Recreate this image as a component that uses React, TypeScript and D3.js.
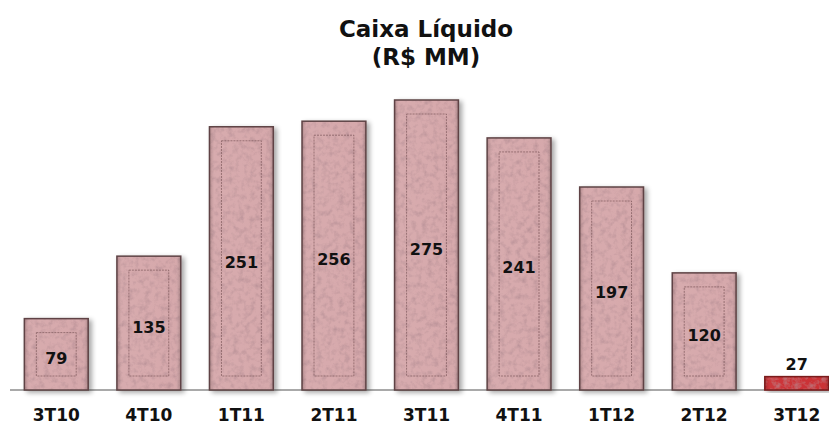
import React, { useEffect, useRef } from "react";
import * as d3 from "d3";

const categories = ["3T10", "4T10", "1T11", "2T11", "3T11", "4T11", "1T12", "2T12", "3T12"];
const values = [79, 135, 251, 256, 275, 241, 197, 120, 27];
const title = ["Caixa Líquido", "(R$ MM)"];

const App = () => {
    const svgRef = useRef<SVGSVGElement>(null);

    useEffect(() => {
        const width = 829, height = 425;
        const baseline = 390;
        const font = "'DejaVu Sans', Verdana, sans-serif";

        const svg = d3.select(svgRef.current)
            .attr("width", width)
            .attr("height", height);
        svg.selectAll("*").remove();

        const defs = svg.append("defs");

        // mottled stone texture
        const tex = defs.append("filter").attr("id", "stone")
            .attr("x", "0").attr("y", "0").attr("width", "1").attr("height", "1");
        tex.append("feTurbulence").attr("type", "fractalNoise")
            .attr("baseFrequency", "0.18").attr("numOctaves", 3).attr("seed", 4).attr("result", "noise");
        tex.append("feColorMatrix").attr("in", "noise").attr("type", "matrix")
            .attr("values", "0 0 0 0 0.4  0 0 0 0 0.22  0 0 0 0 0.25  0 0 0 -1.4 0.8")
            .attr("result", "spots");
        tex.append("feComposite").attr("in", "spots").attr("in2", "SourceGraphic").attr("operator", "atop");

        const shadow = defs.append("filter").attr("id", "shadow")
            .attr("x", "-20%").attr("y", "-10%").attr("width", "150%").attr("height", "130%");
        shadow.append("feGaussianBlur").attr("in", "SourceAlpha").attr("stdDeviation", 2.5);
        shadow.append("feOffset").attr("dx", 3).attr("dy", 2).attr("result", "b");
        shadow.append("feComponentTransfer").append("feFuncA").attr("type", "linear").attr("slope", 0.35);
        const merge = shadow.append("feMerge");
        merge.append("feMergeNode");
        merge.append("feMergeNode").attr("in", "SourceGraphic");

        const bevel = defs.append("linearGradient").attr("id", "bevelH");
        bevel.append("stop").attr("offset", "0%").attr("stop-color", "#000").attr("stop-opacity", 0.18);
        bevel.append("stop").attr("offset", "8%").attr("stop-color", "#fff").attr("stop-opacity", 0.08);
        bevel.append("stop").attr("offset", "92%").attr("stop-color", "#fff").attr("stop-opacity", 0.05);
        bevel.append("stop").attr("offset", "100%").attr("stop-color", "#000").attr("stop-opacity", 0.22);

        const x = d3.scaleBand()
            .domain(categories)
            .range([10, 843])
            .paddingInner(0.31)
            .paddingOuter(0.155);

        const y = d3.scaleLinear()
            .domain([15, 275])
            .range([baseline, 100]);

        const data = categories.map((c, i) => ({ cat: c, value: values[i], last: i === categories.length - 1 }));

        svg.append("line")
            .attr("x1", 10).attr("x2", width)
            .attr("y1", baseline).attr("y2", baseline)
            .attr("stroke", "#8c8c8c").attr("stroke-width", 1.5);

        const bars = svg.selectAll(".bar")
            .data(data)
            .enter()
            .append("g")
            .attr("class", "bar")
            .attr("filter", "url(#shadow)");

        bars.append("rect")
            .attr("x", d => x(d.cat)!)
            .attr("y", d => y(d.value))
            .attr("width", x.bandwidth())
            .attr("height", d => baseline - y(d.value))
            .attr("fill", d => d.last ? "#c8262a" : "#d4a4a7")
            .attr("filter", "url(#stone)");

        bars.append("rect")
            .attr("x", d => x(d.cat)!)
            .attr("y", d => y(d.value))
            .attr("width", x.bandwidth())
            .attr("height", d => baseline - y(d.value))
            .attr("fill", "url(#bevelH)")
            .attr("stroke", d => d.last ? "#7a1a1a" : "#5e4345")
            .attr("stroke-width", 1.5);

        bars.filter(d => !d.last).append("rect")
            .attr("x", d => x(d.cat)! + 12)
            .attr("y", d => y(d.value) + 14)
            .attr("width", x.bandwidth() - 24)
            .attr("height", d => baseline - y(d.value) - 28)
            .attr("fill", "none")
            .attr("stroke", "#6e4a4d")
            .attr("stroke-opacity", 0.6)
            .attr("stroke-dasharray", "2,1")
            .attr("stroke-width", 1);

        svg.selectAll(".value")
            .data(data)
            .enter()
            .append("text")
            .attr("class", "value")
            .attr("x", d => x(d.cat)! + x.bandwidth() / 2)
            .attr("y", d => d.last ? y(d.value) - 7 : (y(d.value) + baseline) / 2 + 9.5)
            .attr("text-anchor", "middle")
            .attr("font-family", font)
            .attr("font-weight", "bold")
            .attr("font-size", 16)
            .attr("fill", "#111")
            .text(d => d.value);

        svg.selectAll(".cat")
            .data(data)
            .enter()
            .append("text")
            .attr("class", "cat")
            .attr("x", d => x(d.cat)! + x.bandwidth() / 2)
            .attr("y", 421)
            .attr("text-anchor", "middle")
            .attr("font-family", font)
            .attr("font-weight", "bold")
            .attr("font-size", 17)
            .attr("fill", "#111")
            .text(d => d.cat);

        svg.selectAll(".title")
            .data(title)
            .enter()
            .append("text")
            .attr("class", "title")
            .attr("x", 426)
            .attr("y", (d, i) => 37 + i * 28)
            .attr("text-anchor", "middle")
            .attr("font-family", font)
            .attr("font-weight", "bold")
            .attr("font-size", 23)
            .attr("fill", "#111")
            .text(d => d);
    }, []);

    return <svg ref={svgRef} style={{ position: "absolute", left: 0, top: 0 }}></svg>;
};

export default App;
